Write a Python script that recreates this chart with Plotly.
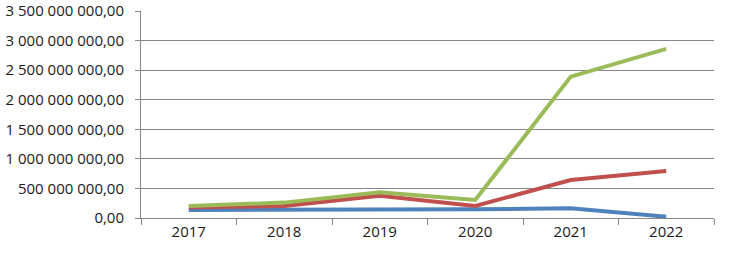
import plotly.graph_objects as go

years = ["2017", "2018", "2019", "2020", "2021", "2022"]
series_blue = [135e6, 135e6, 140e6, 147e6, 164e6, 22e6]
series_red = [180e6, 203e6, 377e6, 203e6, 642e6, 795e6]
series_green = [203e6, 260e6, 435e6, 304e6, 2390e6, 2860e6]
y_tickvals = [0, 500e6, 1000e6, 1500e6, 2000e6, 2500e6, 3000e6, 3500e6]
y_ticktext = ["0,00", "500 000 000,00", "1 000 000 000,00", "1 500 000 000,00",
              "2 000 000 000,00", "2 500 000 000,00", "3 000 000 000,00", "3 500 000 000,00"]

fig = go.Figure()
for vals, col in [(series_blue, "#4F81BD"), (series_red, "#C0504D"), (series_green, "#9BBB59")]:
    fig.add_trace(go.Scatter(x=years, y=vals, mode="lines",
                             line=dict(color=col, width=4), showlegend=False))

grid = "#868686"
fig.update_layout(
    width=731, height=257,
    margin=dict(l=141, r=17, t=11, b=39, autoexpand=False),
    paper_bgcolor="white", plot_bgcolor="white",
    font=dict(family="Open Sans, Liberation Sans, sans-serif", size=15, color="#1a1a1a"),
    xaxis=dict(type="category", tickson="boundaries", ticks="outside", ticklen=6,
               tickcolor=grid, showgrid=False, showline=True, linecolor=grid, linewidth=1,
               range=[-0.5, 5.5], automargin=False),
    yaxis=dict(range=[0, 3.5e9], tickvals=y_tickvals, ticktext=y_ticktext,
               ticks="outside", ticklen=5, tickcolor=grid, showgrid=True, gridcolor=grid,
               gridwidth=1, showline=True, linecolor=grid, zeroline=False,
               automargin=False, ticklabelstandoff=8),
)
fig.write_html("out.html", config={"displayModeBar": False},
               post_script="document.body.style.margin='0';")
